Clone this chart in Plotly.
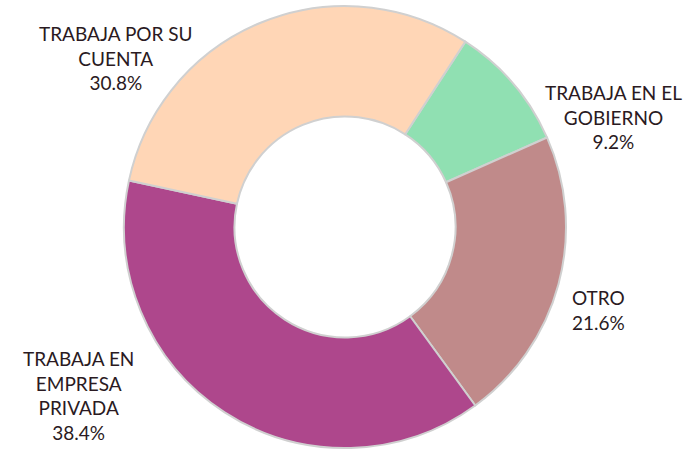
import plotly.graph_objects as go

categories = ["TRABAJA EN EL<br>GOBIERNO", "OTRO", "TRABAJA EN<br>EMPRESA<br>PRIVADA", "TRABAJA POR SU<br>CUENTA"]
values = [9.2, 21.6, 38.4, 30.8]
colors = ["#90E0B2", "#C08A8A", "#AE478C", "#FFD6B6"]

# label placement (paper coords), kept separate from the data
label_pos = [(613 / 688, 1 - 117 / 451), (598 / 688, 1 - 310 / 451),
             (78 / 688, 1 - 395 / 451), (116 / 688, 1 - 58 / 451)]

fig = go.Figure(go.Pie(
    labels=categories,
    values=values,
    hole=0.5,
    sort=False,
    direction="clockwise",
    rotation=33,
    marker=dict(colors=colors, line=dict(color="#d0d0d0", width=2)),
    textinfo="none",
    showlegend=False,
    domain=dict(x=[124 / 688, 566 / 688], y=[3 / 451, 445 / 451]),
    hoverinfo="label+percent",
))
for lab, val, (px, py) in zip(categories, values, label_pos):
    fig.add_annotation(
        x=px, y=py, xref="paper", yref="paper",
        text=f"{lab}<br>{val:.1f}%", showarrow=False,
        xanchor="center", yanchor="middle", align="center",
        font=dict(family="Lato", size=19, color="#2A1A22"),
    )
fig.update_layout(
    width=688, height=451,
    margin=dict(l=0, r=0, t=0, b=0),
    paper_bgcolor="white", plot_bgcolor="white",
)
fig.write_html("out.html", config={"displayModeBar": False},
               post_script="document.body.style.margin='0';")
